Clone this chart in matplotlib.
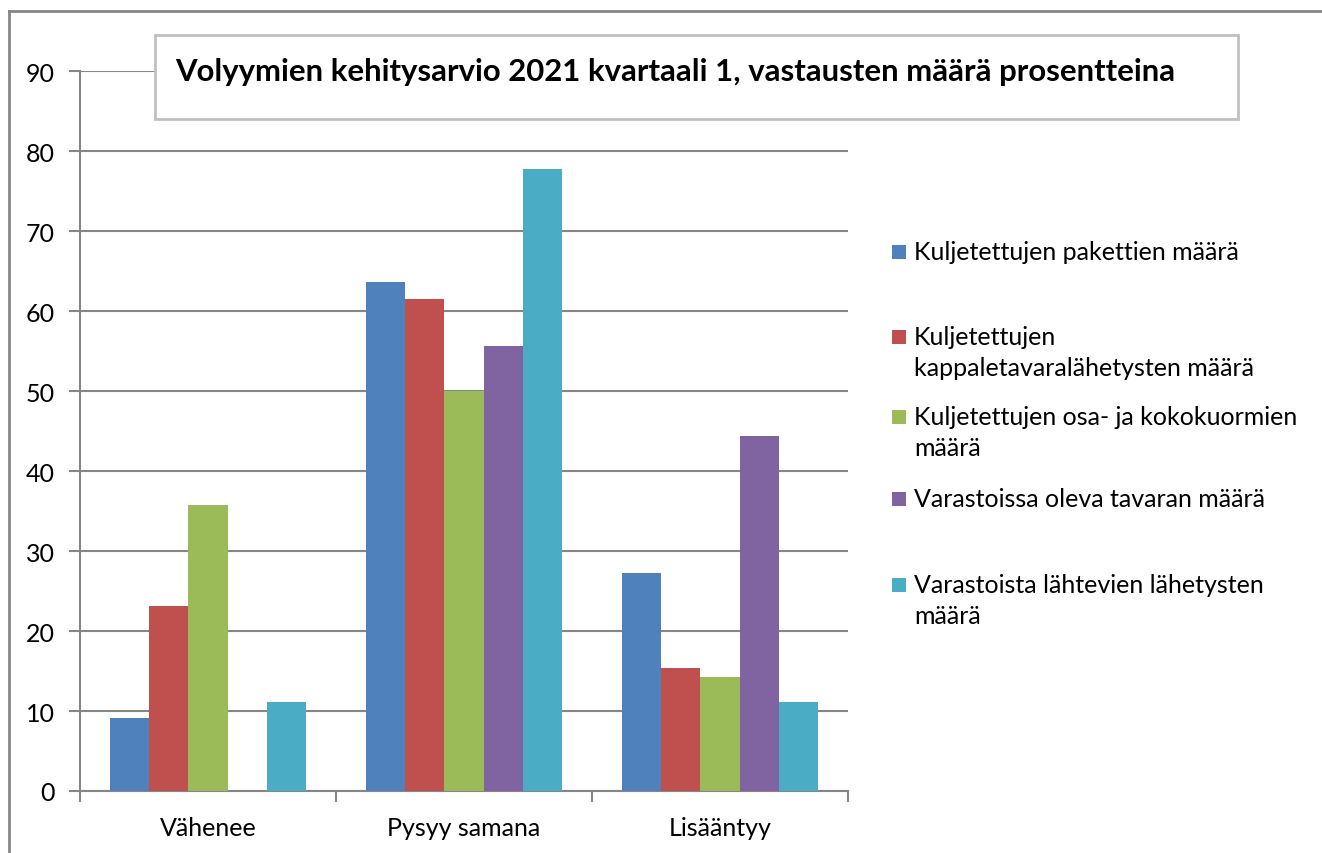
import numpy as np
import matplotlib.pyplot as plt
from matplotlib.patches import Rectangle
from matplotlib.lines import Line2D

plt.rcParams['font.family'] = ['Lato', 'DejaVu Sans']

categories = ['Vähenee', 'Pysyy samana', 'Lisääntyy']
series = ['Kuljetettujen pakettien määrä',
          'Kuljetettujen\nkappaletavaralähetysten määrä',
          'Kuljetettujen osa- ja kokokuormien\nmäärä',
          'Varastoissa oleva tavaran määrä',
          'Varastoista lähtevien lähetysten\nmäärä']
values = [
    [9.1, 63.6, 27.3],
    [23.1, 61.5, 15.4],
    [35.7, 50.0, 14.3],
    [0.0, 55.6, 44.4],
    [11.1, 77.8, 11.1],
]
colors = ['#4F81BD', '#C0504D', '#9BBB59', '#8064A2', '#4BACC6']
title = 'Volyymien kehitysarvio 2021 kvartaali 1, vastausten määrä prosentteina'

W, H = 1322, 854
fig = plt.figure(figsize=(W / 100, H / 100), dpi=100)
ax = fig.add_axes([80 / W, 1 - 792 / H, (848 - 80) / W, (792 - 72) / H])

grey = '#868686'
x = np.arange(len(categories))
bw = 1 / 6.5
for i, (vals, c) in enumerate(zip(values, colors)):
    ax.bar(x + (i - 2) * bw, vals, bw, color=c, zorder=3)

ax.set_xlim(-0.5, 2.5)
ax.set_ylim(0, 90)
ax.set_yticks(range(0, 91, 10))
ax.yaxis.grid(True, color=grey, linewidth=1.5, zorder=0)
ax.set_xticks([-0.5, 0.5, 1.5, 2.5])
ax.set_xticklabels([])
ax.set_xticks(x, minor=True)
ax.set_xticklabels(categories, minor=True)
ax.tick_params(axis='x', which='minor', length=0, pad=18, labelsize=18)
ax.tick_params(axis='x', which='major', length=8, width=1.5, color=grey)
ax.tick_params(axis='y', length=8, width=1.5, color=grey, pad=10, labelsize=18)
for s in ['top', 'right']:
    ax.spines[s].set_visible(False)
for s in ['left', 'bottom']:
    ax.spines[s].set_color(grey)
    ax.spines[s].set_linewidth(1.5)

# outer chart frame
fig.add_artist(Line2D([9 / W, 1.01], [1 - 12 / H] * 2, color=grey, lw=2, transform=fig.transFigure))
fig.add_artist(Line2D([9 / W] * 2, [-0.01, 1 - 12 / H], color=grey, lw=2, transform=fig.transFigure))

# title box
fig.add_artist(Rectangle((155 / W, 1 - 120 / H), (1238 - 155) / W, (120 - 36) / H,
                         transform=fig.transFigure, facecolor='white',
                         edgecolor='#c0c0c0', lw=2, zorder=5))
fig.text(175 / W, 1 - 72 / H, title, fontsize=22.4, fontweight='bold',
         va='center', ha='left', zorder=6)

# legend
leg_y = [253, 338, 418, 500, 586]
for lab, c, yy in zip(series, colors, leg_y):
    fig.add_artist(Rectangle((892 / W, 1 - (yy + 7) / H), 14 / W, 14 / H,
                             transform=fig.transFigure, facecolor=c, edgecolor='none'))
    fig.text(914 / W, 1 - (yy - 12) / H, lab, fontsize=18, va='top', ha='left',
             linespacing=1.42)

fig.savefig('out.png', dpi=100)
